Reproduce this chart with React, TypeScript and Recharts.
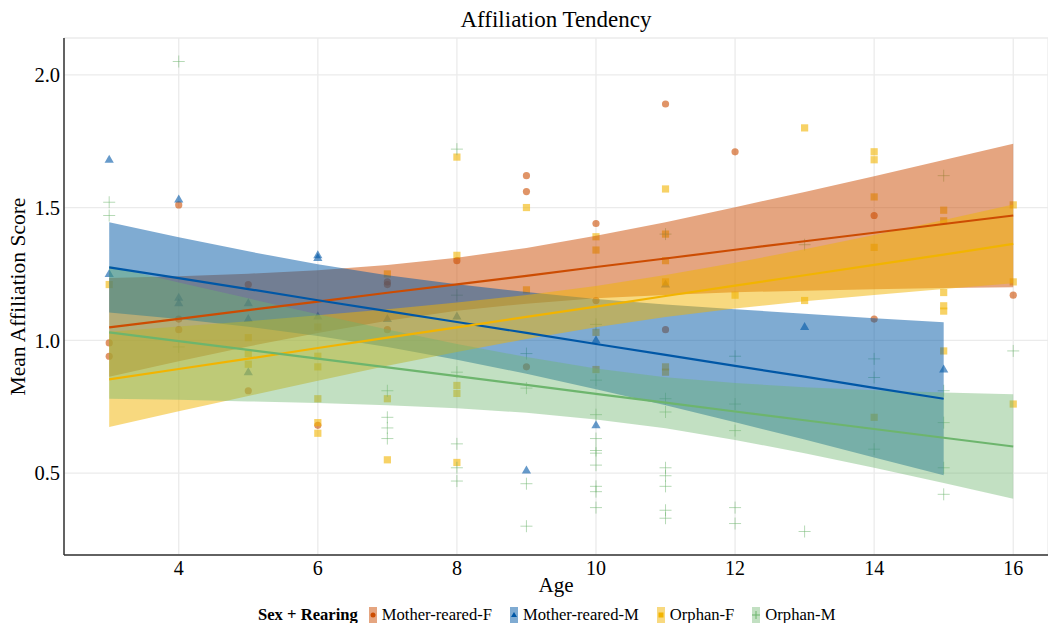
import React from 'react';
import { ComposedChart, Area, Line, Scatter, XAxis, YAxis, CartesianGrid } from 'recharts';

const FONT = '"Liberation Serif", "Times New Roman", "DejaVu Serif", serif';

const GROUPS = ['Mother-reared-F', 'Mother-reared-M', 'Orphan-F', 'Orphan-M'];
const COLORS = ['#CC4C02', '#0057A6', '#F2B400', '#6DB56D'];
const X_TICKS = [4, 6, 8, 10, 12, 14, 16];
const Y_TICKS = [0.5, 1.0, 1.5, 2.0];

// fitted lines and confidence bands
const AGES_A = [3, 4, 5, 6, 7, 8, 9, 10, 11, 12, 13, 14, 15, 16];
const AGES_B = [3, 4, 5, 6, 7, 8, 9, 10, 11, 12, 13, 14, 15];

const mfFit = [1.049, 1.081, 1.114, 1.146, 1.179, 1.211, 1.243, 1.276, 1.308, 1.341, 1.373, 1.405, 1.438, 1.470];
const mfLo = [0.863, 0.921, 0.977, 1.028, 1.074, 1.111, 1.138, 1.158, 1.171, 1.181, 1.187, 1.192, 1.197, 1.200];
const mfHi = [1.235, 1.241, 1.251, 1.264, 1.284, 1.311, 1.348, 1.394, 1.445, 1.501, 1.559, 1.618, 1.679, 1.740];

const mmFit = [1.275, 1.234, 1.193, 1.151, 1.110, 1.069, 1.028, 0.986, 0.945, 0.904, 0.863, 0.821, 0.780];
const mmLo = [1.105, 1.080, 1.051, 1.016, 0.975, 0.927, 0.874, 0.816, 0.755, 0.691, 0.626, 0.559, 0.492];
const mmHi = [1.445, 1.388, 1.335, 1.286, 1.245, 1.211, 1.182, 1.156, 1.135, 1.117, 1.100, 1.083, 1.068];

const ofFit = [0.853, 0.892, 0.931, 0.971, 1.010, 1.049, 1.088, 1.127, 1.167, 1.206, 1.245, 1.284, 1.323, 1.363];
const ofLo = [0.674, 0.733, 0.790, 0.848, 0.904, 0.956, 1.005, 1.049, 1.088, 1.120, 1.147, 1.171, 1.193, 1.215];
const ofHi = [1.032, 1.052, 1.072, 1.094, 1.117, 1.142, 1.171, 1.205, 1.246, 1.292, 1.343, 1.397, 1.453, 1.511];

const omFit = [1.030, 0.997, 0.964, 0.931, 0.898, 0.865, 0.832, 0.798, 0.765, 0.732, 0.699, 0.666, 0.633, 0.600];
const omLo = [0.780, 0.776, 0.770, 0.764, 0.755, 0.744, 0.727, 0.702, 0.669, 0.625, 0.575, 0.520, 0.463, 0.403];
const omHi = [1.280, 1.218, 1.158, 1.098, 1.041, 0.986, 0.937, 0.894, 0.861, 0.839, 0.823, 0.812, 0.803, 0.797];

// observed points
const mfAge = [3, 3, 4, 4, 4, 5, 5, 6, 7, 7, 7, 8, 9, 9, 9, 10, 10, 11, 11, 12, 14, 14, 16];
const mfVal = [0.99, 0.94, 1.51, 1.08, 1.04, 1.21, 0.81, 0.68, 1.22, 1.21, 1.04, 1.30, 1.62, 1.56, 0.90, 1.44, 1.15, 1.89, 1.04, 1.71, 1.47, 1.08, 1.17];

const mmAge = [3, 3, 4, 4, 4, 5, 5, 5, 6, 6, 6, 7, 8, 9, 10, 10, 11, 13, 15];
const mmVal = [1.68, 1.25, 1.53, 1.16, 1.14, 1.14, 1.08, 0.88, 1.32, 1.31, 1.09, 1.08, 1.09, 0.51, 1.00, 0.68, 1.21, 1.05, 0.89];

const ofAge = [3, 5, 5, 5, 6, 6, 6, 6, 6, 6, 7, 7, 7, 8, 8, 8, 8, 8, 9, 9, 10, 10, 10, 10, 11, 11, 11, 11, 11, 11, 12, 13, 13, 14, 14, 14, 14, 14, 15, 15, 15, 15, 15, 15, 16, 16, 16];
const ofVal = [1.21, 1.01, 0.95, 0.91, 1.05, 0.94, 0.90, 0.78, 0.69, 0.65, 1.25, 0.78, 0.55, 1.69, 1.32, 0.83, 0.80, 0.54, 1.50, 1.19, 1.39, 1.34, 1.03, 0.89, 1.57, 1.40, 1.30, 1.22, 0.90, 0.88, 1.17, 1.80, 1.15, 1.71, 1.68, 1.54, 1.35, 0.71, 1.49, 1.45, 1.18, 1.13, 1.11, 0.96, 1.51, 1.22, 0.76];

const omAge = [3, 3, 4, 4, 7, 7, 7, 7, 8, 8, 8, 8, 8, 8, 9, 9, 9, 9, 10, 10, 10, 10, 10, 10, 10, 10, 10, 10, 11, 11, 11, 11, 11, 11, 11, 11, 12, 12, 12, 12, 12, 13, 13, 14, 14, 14, 15, 15, 15, 15, 15, 16];
const omVal = [1.52, 1.47, 2.05, 0.975, 0.81, 0.71, 0.67, 0.63, 1.72, 1.17, 0.88, 0.61, 0.52, 0.47, 0.95, 0.82, 0.46, 0.30, 1.06, 0.85, 0.72, 0.63, 0.585, 0.575, 0.53, 0.45, 0.43, 0.37, 1.40, 0.78, 0.73, 0.52, 0.49, 0.45, 0.36, 0.33, 0.94, 0.76, 0.66, 0.37, 0.31, 1.36, 0.28, 0.93, 0.86, 0.59, 1.62, 0.81, 0.69, 0.52, 0.42, 0.96];

const band = (ages: number[], fit: number[], lo: number[], hi: number[]) =>
  ages.map((x, i) => ({ x, fit: fit[i], range: [lo[i], hi[i]] }));
const pts = (ages: number[], vals: number[]) => ages.map((x, i) => ({ x, y: vals[i] }));

const bands = [
  band(AGES_A, mfFit, mfLo, mfHi),
  band(AGES_B, mmFit, mmLo, mmHi),
  band(AGES_A, ofFit, ofLo, ofHi),
  band(AGES_A, omFit, omLo, omHi),
];
const points = [pts(mfAge, mfVal), pts(mmAge, mmVal), pts(ofAge, ofVal), pts(omAge, omVal)];
const BAND_OPACITY = [0.5, 0.5, 0.5, 0.42];

const CircleShape = (p: any) => <circle cx={p.cx} cy={p.cy} r={3.6} fill={COLORS[0]} fillOpacity={0.6} />;
const TriangleShape = (p: any) => (
  <path d={`M${p.cx},${p.cy - 5}L${p.cx + 4.6},${p.cy + 3}L${p.cx - 4.6},${p.cy + 3}Z`} fill={COLORS[1]} fillOpacity={0.6} />
);
const SquareShape = (p: any) => (
  <rect x={p.cx - 3.6} y={p.cy - 3.6} width={7.2} height={7.2} fill={COLORS[2]} fillOpacity={0.6} />
);
const PlusShape = (p: any) => (
  <path d={`M${p.cx - 6},${p.cy}H${p.cx + 6}M${p.cx},${p.cy - 6}V${p.cy + 6}`} stroke={COLORS[3]} strokeOpacity={0.5} strokeWidth={1} fill="none" />
);
const SHAPES = [CircleShape, TriangleShape, SquareShape, PlusShape];

const LegendKey = ({ i }: { i: number }) => {
  const c = COLORS[i];
  return (
    <svg width={8} height={16} style={{ display: 'block' }}>
      <rect x={0} y={0} width={8} height={16} fill={c} fillOpacity={BAND_OPACITY[i]} />
      {i === 0 && <circle cx={4} cy={8} r={2.5} fill={c} />}
      {i === 1 && <path d="M4,5L7,10L1,10Z" fill={c} />}
      {i === 2 && <rect x={1.5} y={5.5} width={5} height={5} fill={c} />}
      {i === 3 && <path d="M0,8H8M4,4V12" stroke={c} strokeWidth={1} />}
    </svg>
  );
};

const LegendBlock = () => (
  <div style={{ position: 'absolute', left: 258, top: 604, height: 22, display: 'flex', alignItems: 'center', fontFamily: FONT, fontSize: 16.6, color: '#000', whiteSpace: 'nowrap' }}>
    <span style={{ fontWeight: 'bold', marginRight: 11 }}>Sex + Rearing</span>
    {GROUPS.map((g, i) => (
      <span key={g} style={{ display: 'flex', alignItems: 'center', marginRight: 18 }}>
        <LegendKey i={i} />
        <span style={{ marginLeft: 5 }}>{g}</span>
      </span>
    ))}
  </div>
);

const YLabel = (props: any) => {
  const vb = props.viewBox || { x: 0, y: 38, width: 64, height: 517 };
  const cx = 18;
  const cy = vb.y + vb.height / 2;
  return (
    <text x={cx} y={cy} transform={`rotate(-90 ${cx} ${cy})`} textAnchor="middle" dominantBaseline="central" fontFamily={FONT} fontSize={21.5} fill="#000">
      Mean Affiliation Score
    </text>
  );
};

const XLabel = (props: any) => {
  const vb = props.viewBox || { x: 64, y: 555, width: 984, height: 46 };
  return (
    <text x={vb.x + vb.width / 2} y={592} textAnchor="middle" fontFamily={FONT} fontSize={21} fill="#000">
      Age
    </text>
  );
};

const MARGIN = { top: 38, right: 0, bottom: 22, left: 0 };
const X_DOMAIN: [number, number] = [2.35, 16.5];
const Y_DOMAIN: [number, number] = [0.1915, 2.1385];

export default function App() {
  return (
    <div style={{ position: 'absolute', left: 0, top: 0, width: 1048, height: 623, background: '#fff', overflow: 'hidden' }}>
      <div style={{ position: 'absolute', left: 64, top: 6, width: 984, textAlign: 'center', fontFamily: FONT, fontSize: 23, lineHeight: '28px', color: '#000' }}>
        Affiliation Tendency
      </div>
      {/* bottom layer: grid, axes, observed points */}
      <div style={{ position: 'absolute', left: 0, top: 0 }}>
        <ComposedChart width={1048} height={623} margin={MARGIN}>
          <CartesianGrid stroke="#EBEBEB" strokeWidth={1.3} />
          <XAxis
            type="number"
            dataKey="x"
            domain={X_DOMAIN}
            allowDataOverflow
            ticks={X_TICKS}
            tickLine={false}
            tickSize={0}
            tickMargin={6}
            height={46}
            axisLine={{ stroke: '#333', strokeWidth: 1.5 }}
            tick={{ fontFamily: FONT, fontSize: 20, fill: '#000' }}
            label={{ content: XLabel }}
          />
          <YAxis
            type="number"
            domain={Y_DOMAIN}
            allowDataOverflow
            ticks={Y_TICKS}
            tickFormatter={(v: number) => v.toFixed(1)}
            tickLine={false}
            tickSize={0}
            tickMargin={4}
            width={64}
            axisLine={{ stroke: '#333', strokeWidth: 1.5 }}
            tick={{ fontFamily: FONT, fontSize: 20.5, fill: '#000' }}
            label={{ content: YLabel }}
          />
          {points.map((d, i) => (
            <Scatter key={'s' + i} name={GROUPS[i]} data={d} dataKey="y" shape={SHAPES[i]} isAnimationActive={false} legendType="none" />
          ))}
        </ComposedChart>
      </div>
      {/* top layer: confidence bands and fitted lines */}
      <div style={{ position: 'absolute', left: 0, top: 0 }}>
        <ComposedChart width={1048} height={623} margin={MARGIN}>
          <XAxis type="number" dataKey="x" domain={X_DOMAIN} allowDataOverflow ticks={X_TICKS} tick={false} tickLine={false} axisLine={false} height={46} />
          <YAxis type="number" domain={Y_DOMAIN} allowDataOverflow ticks={Y_TICKS} tick={false} tickLine={false} axisLine={false} width={64} />
          {bands.flatMap((d, i) => [
            <Area key={'a' + i} data={d} dataKey="range" type="linear" stroke="none" fill={COLORS[i]} fillOpacity={BAND_OPACITY[i]} isAnimationActive={false} legendType="none" dot={false} activeDot={false} />,
            <Line key={'l' + i} data={d} dataKey="fit" type="linear" stroke={COLORS[i]} strokeWidth={2.2} dot={false} activeDot={false} isAnimationActive={false} legendType="none" />,
          ])}
        </ComposedChart>
      </div>
      <LegendBlock />
    </div>
  );
}
